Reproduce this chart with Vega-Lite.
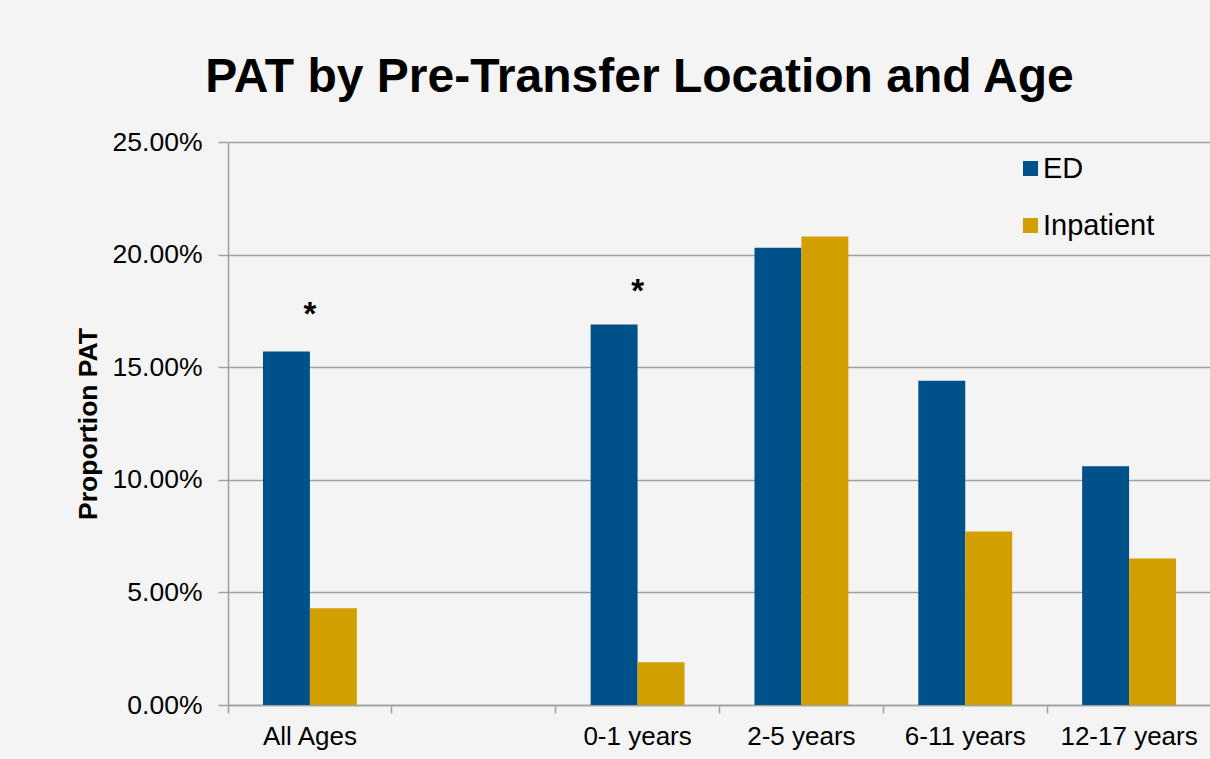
{
  "$schema": "https://vega.github.io/schema/vega-lite/v6.json",
  "autosize": "none",
  "width": 983,
  "height": 563,
  "padding": {"left": 228, "top": 142, "right": 0, "bottom": 54},
  "background": "#f4f4f4",
  "config": {
    "font": "Liberation Sans",
    "view": {"stroke": null}
  },
  "title": {
    "text": "PAT by Pre-Transfer Location and Age",
    "fontSize": 48,
    "fontWeight": "bold",
    "color": "#000000",
    "anchor": "middle",
    "dx": -80,
    "offset": 27
  },
  "datasets": {
    "bars": [
      {"age": "All Ages", "loc": "ED", "pct": 0.157},
      {"age": "All Ages", "loc": "Inpatient", "pct": 0.043},
      {"age": "0-1 years", "loc": "ED", "pct": 0.169},
      {"age": "0-1 years", "loc": "Inpatient", "pct": 0.019},
      {"age": "2-5 years", "loc": "ED", "pct": 0.203},
      {"age": "2-5 years", "loc": "Inpatient", "pct": 0.208},
      {"age": "6-11 years", "loc": "ED", "pct": 0.144},
      {"age": "6-11 years", "loc": "Inpatient", "pct": 0.077},
      {"age": "12-17 years", "loc": "ED", "pct": 0.106},
      {"age": "12-17 years", "loc": "Inpatient", "pct": 0.065}
    ],
    "stars": [
      {"age": "All Ages", "mark": "*", "pct": 0.1687},
      {"age": "0-1 years", "mark": "*", "pct": 0.179}
    ]
  },
  "layer": [
    {
      "data": {"name": "bars"},
      "mark": {"type": "bar"},
      "encoding": {
        "x": {
          "field": "age",
          "type": "nominal",
          "sort": null,
          "scale": {"domain": ["All Ages", "blank", "0-1 years", "2-5 years", "6-11 years", "12-17 years"], "paddingInner": 0, "paddingOuter": 0},
          "axis": {
            "title": null,
            "labelAngle": 0,
            "labelExpr": "datum.value == 'blank' ? '' : datum.value",
            "labelFontSize": 26,
            "labelColor": "#000000",
            "labelPadding": 10,
            "bandPosition": 0,
            "tickSize": 8,
            "tickColor": "#a0a0a0",
            "tickWidth": 1.5,
            "domainColor": "#a0a0a0",
            "domainWidth": 1.5,
            "grid": false
          }
        },
        "xOffset": {
          "field": "loc",
          "type": "nominal",
          "scale": {"paddingInner": 0, "paddingOuter": 0.745}
        },
        "y": {
          "field": "pct",
          "type": "quantitative",
          "scale": {"domain": [0, 0.25], "nice": false},
          "axis": {
            "title": "Proportion PAT",
            "titleFontSize": 26.5,
            "titleFontWeight": "bold",
            "titleColor": "#000000",
            "titlePadding": 10,
            "format": ".2%",
            "values": [0, 0.05, 0.1, 0.15, 0.2, 0.25],
            "labelFontSize": 26.5,
            "labelColor": "#000000",
            "labelPadding": 16,
            "tickSize": 10,
            "tickColor": "#a0a0a0",
            "tickWidth": 1.5,
            "domainColor": "#a0a0a0",
            "domainWidth": 1.5,
            "gridColor": "#a0a0a0",
            "gridWidth": 1.5
          }
        },
        "color": {
          "field": "loc",
          "type": "nominal",
          "scale": {"domain": ["ED", "Inpatient"], "range": ["#00518a", "#d1a000"]},
          "legend": {
            "title": null,
            "orient": "none",
            "legendX": 788,
            "legendY": 12,
            "symbolType": "square",
            "symbolSize": 225,
            "symbolStrokeWidth": 0,
            "labelFontSize": 29,
            "labelColor": "#000000",
            "labelOffset": -2,
            "rowPadding": 27,
            "padding": 0
          }
        }
      }
    },
    {
      "data": {"name": "stars"},
      "mark": {"type": "text", "fontSize": 33, "fontWeight": "bold", "baseline": "alphabetic", "color": "#000000"},
      "encoding": {
        "x": {"field": "age", "type": "nominal", "sort": null},
        "y": {"field": "pct", "type": "quantitative"},
        "text": {"field": "mark"}
      }
    }
  ]
}
